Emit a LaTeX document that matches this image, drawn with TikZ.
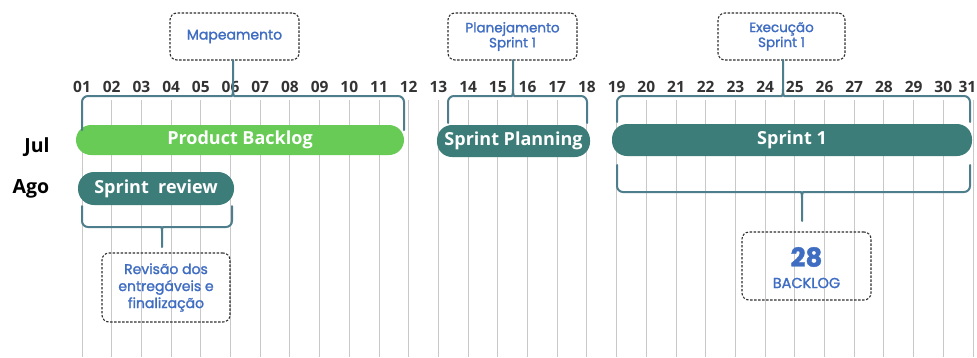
\documentclass[tikz,border=0pt]{standalone}
\usepackage{fontspec}
\setmainfont{Open Sans}
\newfontfamily\boxfont{Poppins}[FakeBold=1.6]
\usetikzlibrary{calc}
\definecolor{pbgreen}{HTML}{67CB56}
\definecolor{sprteal}{HTML}{3C7D79}
\definecolor{bracec}{HTML}{4E7D8C}
\definecolor{boxblue}{HTML}{3F6DC2}
\definecolor{gridc}{HTML}{C8C8C8}
\definecolor{numc}{HTML}{333333}
\definecolor{boxline}{HTML}{2E2E2E}
\tikzset{
  gridline/.style={draw=gridc, line width=0.9pt},
  daynum/.style={font=\fontsize{15.5}{15.5}\selectfont\bfseries, text=numc, inner sep=0pt},
  month/.style={font=\fontsize{19.5}{19.5}\selectfont\bfseries, text=black, inner sep=0pt},
  bar/.style={rounded corners=15pt, text=white, font=\fontsize{18}{18}\selectfont\bfseries, inner sep=0pt},
  notebox/.style={draw=boxline, dashed, dash pattern=on 2.4pt off 1.6pt, line width=1.1pt, rounded corners=7pt, text=boxblue, align=center, font=\boxfont\fontsize{13.5}{15}\selectfont, inner sep=0pt},
  brace/.style={draw=bracec, line width=2pt, line cap=round, line join=round},
}
\newcommand{\curlybrace}[6]{%
  \pgfmathsetmacro\bkpeak{#4+0.2*(#6-#4)}%
  \draw[brace] (#1,#5) [rounded corners=6pt] -- (#1,#4) -- (#3-7,#4) [sharp corners] .. controls (#3-1.5,#4) and (#3,#4) .. (#3,\bkpeak) -- (#3,#6);
  \draw[brace] (#2,#5) [rounded corners=6pt] -- (#2,#4) -- (#3+7,#4) [sharp corners] .. controls (#3+1.5,#4) and (#3,#4) .. (#3,\bkpeak);
}
\begin{document}
\begin{tikzpicture}[x=1pt,y=-1pt]
\useasboundingbox (0,0) rectangle (977,357);
% grid
\foreach \d in {1,...,30}{
  \pgfmathsetmacro\xx{82+(\d-1)*29.7}
  \coordinate (g\d) at (\xx,100);
  \draw[gridline] (g\d) -- (\xx,357);
  \node[daynum] (n\d) at (\xx,87) {\ifnum\d<10 0\fi\d};
}
\coordinate (g31) at (973,100);
\draw[gridline] (g31) -- (973,357);
\node[daynum, anchor=east] (n31) at (976.5,87) {31};
% months
\node[month] (jul) at (37,147) {Jul};
\node[month] (ago) at (31,189) {Ago};
% bars
\node[bar, fill=pbgreen, minimum width=328pt, minimum height=30pt] (pb) at (240,140) {Product Backlog};
\node[bar, fill=sprteal, minimum width=153pt, minimum height=32pt] (sp) at (513.5,141) {Sprint Planning};
\node[bar, fill=sprteal, minimum width=360pt, minimum height=32pt] (s1) at (792,140) {Sprint 1};
\node[bar, fill=sprteal, minimum width=156pt, minimum height=33pt, rounded corners=16pt] (sr) at (156,188.5) {Sprint\ \ review};
% note boxes
\node[notebox, minimum width=129pt, minimum height=47pt, font=\boxfont\fontsize{14}{15}\selectfont] (map) at (234.5,36.5) {Mapeamento};
\node[notebox, minimum width=129pt, minimum height=47pt] (plan) at (512.5,36.5) {Planejamento\\Sprint 1};
\node[notebox, minimum width=127pt, minimum height=47pt] (exe) at (781.5,36.5) {Execução\\Sprint 1};
\node[notebox, minimum width=128pt, minimum height=69pt, font=\boxfont\fontsize{14}{17}\selectfont] (rev) at (166,287.5) {Revisão dos\\entregáveis e\\finalização};
\node[notebox, minimum width=129pt, minimum height=68pt] (bkl) at (806.5,266) {};
\node[text=boxblue, font=\boxfont\fontsize{26}{26}\selectfont\bfseries, inner sep=0pt] (n28) at (806.5,257) {28};
\node[text=boxblue, font=\boxfont\fontsize{14.5}{15}\selectfont, inner sep=0pt] (bktxt) at (806.5,283) {BACKLOG};
% braces
\curlybrace{82}{404}{233}{96}{130}{60}
\curlybrace{448}{587}{513}{96}{123}{60}
\curlybrace{617}{970}{783}{96}{122}{60}
\curlybrace{617}{970}{802}{192}{165}{221}
\curlybrace{82}{232}{162}{227}{206}{247}
\end{tikzpicture}
\end{document}
